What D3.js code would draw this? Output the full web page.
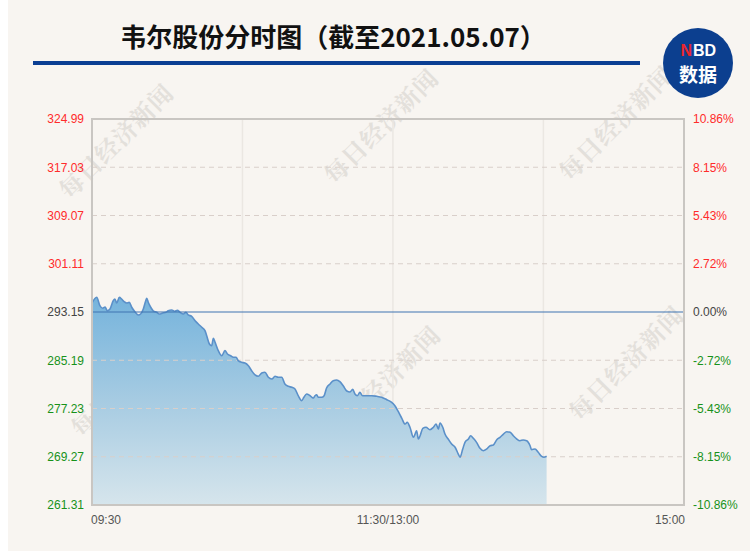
<!DOCTYPE html>
<html><head><meta charset="utf-8">
<script src="https://cdn.jsdelivr.net/npm/d3@7"></script>
<style>
html,body{margin:0;padding:0;background:#fff;}
svg{display:block;}
</style></head>
<body>
<script>
// ---- data ----
const title = "韦尔股份分时图（截至2021.05.07）";
const prevClose = 293.15;
const priceTicks = [324.99, 317.03, 309.07, 301.11, 293.15, 285.19, 277.23, 269.27, 261.31];
const pctTicks = ["10.86%", "8.15%", "5.43%", "2.72%", "0.00%", "-2.72%", "-5.43%", "-8.15%", "-10.86%"];
const timeLabels = ["09:30", "11:30/13:00", "15:00"];
const timeLabelPos = [0, 120, 240];
const gridMinutes = [61, 122, 183];
const minutes = [0,1.9,3.2,4.3,5.3,6.2,7.3,8.6,9.3,10.0,11.1,12.0,13.0,14.1,15.1,16.1,17.4,18.8,19.7,20.8,21.8,22.2,22.8,23.8,24.9,26.2,27.3,28.7,30.0,30.9,32.3,33.6,34.6,35.7,37.0,38.1,39.0,40.4,41.8,43.1,44.5,45.8,46.5,47.6,48.5,49.2,49.9,51.2,52.6,53.9,54.9,56.2,57.3,58.4,59.3,60.6,62.0,63.4,64.7,66.1,67.4,68.8,70.1,71.5,72.9,74.2,75.5,76.9,78.2,79.6,81.0,82.3,83.6,85.0,85.9,87.0,88.4,89.7,90.4,91.1,91.7,93.1,94.1,95.1,96.5,97.8,99.2,100.5,101.9,103.3,104.6,105.7,106.6,107.6,108.6,109.7,111.4,113.4,115.4,117.4,119.5,121.5,122.8,124.2,125.6,126.9,127.8,128.9,130.3,131.0,131.6,132.3,133.0,134.1,135.4,137.0,138.4,139.5,140.4,141.1,142.2,143.1,144.4,145.8,147.2,148.5,149.2,150.3,151.2,152.6,153.5,154.6,155.9,157.3,158.6,160.0,161.4,162.7,164.1,165.4,166.8,168.1,169.5,170.8,172.2,173.5,174.8,176.2,177.6,178.2,179.6,180.9,182.3,183.2,184.3];
const prices = [294.63,295.58,294.19,293.76,293.97,293.36,293.65,295.01,295.29,294.63,295.58,295.29,294.85,294.63,294.75,293.93,293.20,292.66,292.82,293.65,295.01,295.41,294.75,293.93,293.31,293.10,292.82,292.99,293.10,293.36,293.48,293.27,293.43,293.10,292.82,293.10,292.66,292.44,291.71,291.17,290.63,290.07,289.24,287.87,287.59,288.81,288.15,286.77,285.94,286.77,286.22,285.94,285.68,285.68,285.12,284.85,284.74,284.29,283.47,282.76,282.54,283.09,283.20,282.38,282.10,282.54,282.38,282.38,281.27,280.89,280.73,280.45,279.34,278.52,279.08,279.62,279.34,278.96,279.34,279.51,279.08,279.08,279.34,280.61,281.27,281.82,281.93,281.65,280.94,280.12,279.95,280.40,279.62,279.34,279.90,279.34,279.34,279.34,279.24,279.08,278.68,278.25,277.69,276.70,275.61,274.67,274.95,274.13,272.48,273.02,273.57,272.20,272.74,273.96,274.13,273.73,274.13,274.67,273.85,274.84,274.13,273.02,272.20,271.37,270.83,269.72,269.18,270.55,271.65,272.20,272.74,272.31,271.65,270.66,270.27,270.55,271.09,271.21,272.08,272.48,273.02,273.40,273.30,272.74,272.20,271.92,272.03,271.92,271.09,270.43,270.55,270.00,269.34,269.18,269.34];
const watermarkText = "每日经济新闻";

// ---- drawing ----
const W = 750, H = 553;
const svg = d3.select("body").append("svg").attr("width", W).attr("height", H);
const defs = svg.append("defs");

svg.append("rect").attr("x", 8).attr("y", 0).attr("width", W - 8).attr("height", 551).attr("fill", "#f8f5f1");

const plot = {l: 92, r: 684, t: 119, b: 505};
const x = d3.scaleLinear().domain([0, 240]).range([plot.l, plot.r]);
const y = d3.scaleLinear().domain([priceTicks[priceTicks.length - 1], priceTicks[0]]).range([plot.b, plot.t]);

const data = minutes.map((m, i) => ({m, p: prices[i]}));

// title
svg.append("text").attr("x", 333).attr("y", 47).attr("text-anchor", "middle")
  .attr("font-family", "'Noto Sans CJK SC', sans-serif").attr("font-weight", 700)
  .attr("font-size", 26).attr("fill", "#111").text(title);
svg.append("rect").attr("x", 33).attr("y", 61).attr("width", 607).attr("height", 4).attr("fill", "#0b3f93");

// watermarks
const wmPos = [[115, 140], [380, 125], [615, 122], [127, 378], [382, 382], [625, 362]];
svg.append("g").selectAll("text").data(wmPos).join("text")
  .attr("transform", d => `translate(${d[0]},${d[1]}) rotate(-45)`)
  .attr("text-anchor", "middle").attr("dominant-baseline", "central")
  .attr("font-family", "'Noto Serif CJK SC','Noto Sans CJK SC', serif").attr("font-weight", 700)
  .attr("font-size", 24).attr("letter-spacing", 1).attr("fill", "#d3cfca").attr("opacity", 0.55)
  .text(watermarkText);

// vertical grid
svg.append("g").selectAll("line").data(gridMinutes).join("line")
  .attr("x1", d => x(d)).attr("x2", d => x(d)).attr("y1", plot.t).attr("y2", plot.b)
  .attr("stroke", "#ebe7e2").attr("stroke-width", 1.5);

// area
const grad = defs.append("linearGradient").attr("id", "ag").attr("gradientUnits", "userSpaceOnUse")
  .attr("x1", 0).attr("x2", 0).attr("y1", y(296)).attr("y2", plot.b);
grad.append("stop").attr("offset", 0).attr("stop-color", "#74b3dc");
grad.append("stop").attr("offset", 0.5).attr("stop-color", "#a6cbe2");
grad.append("stop").attr("offset", 1).attr("stop-color", "#d6e5ec");

const curve = d3.curveMonotoneX;
svg.append("path").datum(data)
  .attr("d", d3.area().x(d => x(d.m)).y0(plot.b).y1(d => y(d.p)).curve(curve))
  .attr("fill", "url(#ag)");

// horizontal dashed grid
const hg = priceTicks.filter(v => v !== prevClose && v !== priceTicks[0] && v !== priceTicks[priceTicks.length - 1]);
svg.append("g").selectAll("line").data(hg).join("line")
  .attr("x1", plot.l).attr("x2", plot.r).attr("y1", d => y(d)).attr("y2", d => y(d))
  .attr("stroke", "#d9cfca").attr("stroke-width", 1).attr("stroke-dasharray", "5,4");

// line
svg.append("path").datum(data)
  .attr("d", d3.line().x(d => x(d.m)).y(d => y(d.p)).curve(curve))
  .attr("fill", "none").attr("stroke", "#5b90c9").attr("stroke-width", 1.6);

// zero line
svg.append("line").attr("x1", plot.l).attr("x2", plot.r).attr("y1", y(prevClose)).attr("y2", y(prevClose))
  .attr("stroke", "#3f74b2").attr("stroke-width", 1.2);

// border
svg.append("rect").attr("x", plot.l).attr("y", plot.t).attr("width", plot.r - plot.l).attr("height", plot.b - plot.t)
  .attr("fill", "none").attr("stroke", "#c9c6c2").attr("stroke-width", 2);

// axes labels
const colorFor = v => v > prevClose ? "#ff2b2b" : (v < prevClose ? "#17921a" : "#444");
const fontF = "'Liberation Sans', Arial, sans-serif";
const leftAxis = d3.axisLeft(y).tickValues(priceTicks).tickSize(0).tickPadding(8).tickFormat(d3.format(".2f"));
const gl = svg.append("g").attr("transform", `translate(${plot.l},0)`).call(leftAxis);
gl.select(".domain").remove();
gl.selectAll("text").attr("font-family", fontF).attr("font-size", 12).attr("fill", d => colorFor(d));

const rightAxis = d3.axisRight(y).tickValues(priceTicks).tickSize(0).tickPadding(9)
  .tickFormat((d, i) => pctTicks[i]);
const gr = svg.append("g").attr("transform", `translate(${plot.r},0)`).call(rightAxis);
gr.select(".domain").remove();
gr.selectAll("text").attr("font-family", fontF).attr("font-size", 12).attr("fill", d => colorFor(d));

const anchors = ["start", "middle", "end"];
svg.append("g").selectAll("text").data(timeLabels).join("text")
  .attr("x", (d, i) => x(timeLabelPos[i]) + (i === 0 ? -1 : (i === 2 ? 1 : 0)))
  .attr("y", 524).attr("text-anchor", (d, i) => anchors[i])
  .attr("font-family", fontF).attr("font-size", 12).attr("fill", "#555").text(d => d);

// logo
const lg = svg.append("g").attr("transform", "translate(698,63)");
lg.append("circle").attr("r", 35).attr("fill", "#0c3f8f");
lg.append("text").attr("x", -6).attr("y", -7).attr("text-anchor", "end")
  .attr("font-family", "'Liberation Sans', Arial, sans-serif").attr("font-weight", 700).attr("font-size", 16)
  .attr("fill", "#e8262d").text("N");
lg.append("text").attr("x", -5).attr("y", -7).attr("text-anchor", "start")
  .attr("font-family", "'Liberation Sans', Arial, sans-serif").attr("font-weight", 700).attr("font-size", 16)
  .attr("fill", "#fff").text("BD");
lg.append("text").attr("y", 19).attr("text-anchor", "middle")
  .attr("font-family", "'Noto Sans CJK SC', sans-serif").attr("font-weight", 700).attr("font-size", 19)
  .attr("fill", "#fff").text("数据");
</script>
</body></html>
